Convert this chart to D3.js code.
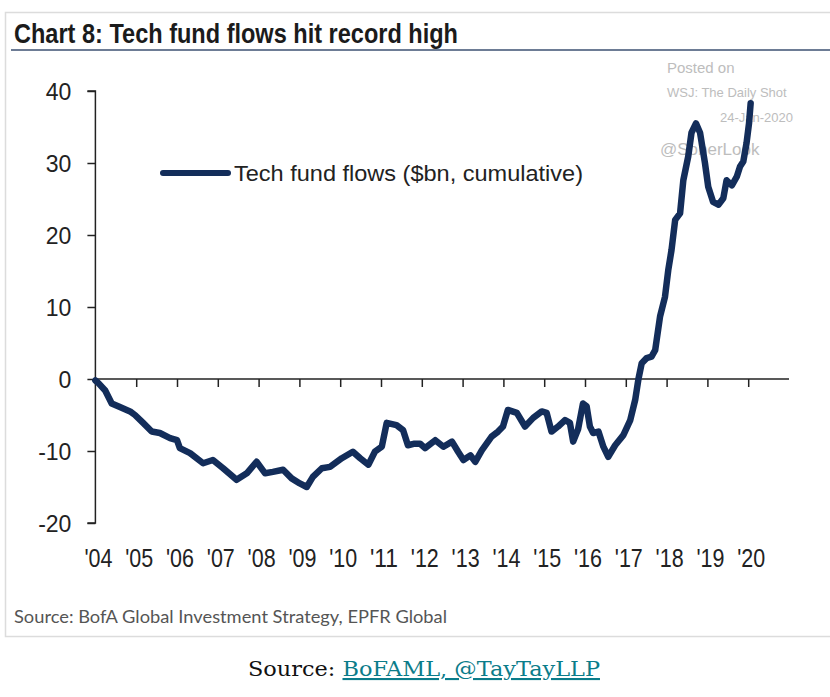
<!DOCTYPE html>
<html><head><meta charset="utf-8">
<script src="https://cdn.jsdelivr.net/npm/d3@7/dist/d3.min.js"></script>
<style>body{margin:0;background:#fff}svg{display:block}</style>
</head><body>
<svg id="c" width="830" height="697"></svg>
<script>
// decimal-year time points and cumulative tech fund flows ($bn)
const years = [2004.00,2004.08,2004.24,2004.40,2004.60,2004.85,2004.97,2005.17,2005.38,2005.58,2005.83,2006.00,2006.07,2006.32,2006.64,2006.88,2007.13,2007.46,2007.71,2007.95,2008.16,2008.35,2008.60,2008.81,2009.01,2009.18,2009.33,2009.55,2009.75,2010.04,2010.31,2010.49,2010.69,2010.85,2011.02,2011.14,2011.38,2011.54,2011.66,2011.80,2011.96,2012.08,2012.33,2012.53,2012.74,2012.89,2013.02,2013.19,2013.31,2013.47,2013.71,2013.87,2013.99,2014.11,2014.33,2014.53,2014.73,2014.94,2015.06,2015.18,2015.34,2015.51,2015.63,2015.71,2015.83,2015.95,2016.04,2016.12,2016.20,2016.33,2016.45,2016.57,2016.74,2016.94,2017.11,2017.23,2017.31,2017.39,2017.51,2017.63,2017.72,2017.84,2017.96,2018.04,2018.12,2018.21,2018.33,2018.41,2018.53,2018.61,2018.72,2018.82,2018.94,2019.02,2019.14,2019.27,2019.39,2019.47,2019.60,2019.72,2019.80,2019.88,2019.96,2020.02,2020.06];
const flows = [-0.2,-0.6,-1.6,-3.4,-3.9,-4.5,-5.0,-6.1,-7.3,-7.5,-8.2,-8.5,-9.6,-10.3,-11.7,-11.25,-12.4,-14.0,-13.1,-11.5,-13.1,-12.9,-12.6,-13.8,-14.5,-15.0,-13.6,-12.4,-12.2,-11.0,-10.1,-11.0,-11.9,-10.1,-9.4,-6.1,-6.4,-7.1,-9.2,-9.0,-9.0,-9.6,-8.5,-9.4,-8.7,-10.1,-11.25,-10.6,-11.5,-9.9,-8.0,-7.3,-6.6,-4.3,-4.7,-6.6,-5.4,-4.5,-4.7,-7.3,-6.6,-5.7,-6.1,-8.7,-7.0,-3.4,-3.8,-6.6,-7.5,-7.3,-9.4,-10.8,-9.2,-7.8,-5.7,-2.9,0.0,2.2,2.9,3.1,4.0,8.7,11.4,15.1,17.9,22.1,23.0,27.6,30.9,34.2,35.5,34.2,30.0,26.7,24.6,24.2,25.1,27.6,26.9,28.1,29.5,30.2,32.8,35.5,38.3];
const yTicks = [-20,-10,0,10,20,30,40];
const yTickLabels = ["-20","-10","0","10","20","30","40"];
const xTickYears = [2004,2005,2006,2007,2008,2009,2010,2011,2012,2013,2014,2015,2016,2017,2018,2019,2020];
const xTickLabels = ["'04","'05","'06","'07","'08","'09","'10","'11","'12","'13","'14","'15","'16","'17","'18","'19","'20"];
const seriesName = "Tech fund flows ($bn, cumulative)";
const title = "Chart 8: Tech fund flows hit record high";
const sourceNote = "Source: BofA Global Investment Strategy, EPFR Global";
const watermark = ["Posted on","WSJ: The Daily Shot","24-Jan-2020","@SoberLook"];

const navy = "#132d5a";
const svg = d3.select("#c");
const x = d3.scaleLinear().domain([2004, 2021]).range([95.4, 789]);
const y = d3.scaleLinear().domain([-20, 40]).range([523, 91]);

// outer panel
svg.append("rect").attr("x",5.5).attr("y",12.5).attr("width",830).attr("height",624)
  .attr("fill","#fff").attr("stroke","#dcdcdc").attr("stroke-width",1.5);
svg.append("text").attr("x",14).attr("y",43).text(title)
  .attr("font-family","'Liberation Sans Narrow','Liberation Sans',Arial,sans-serif")
  .attr("font-weight","bold").attr("font-size",27).attr("fill","#1b1b1b")
  .attr("textLength",444).attr("lengthAdjust","spacingAndGlyphs");
svg.append("line").attr("x1",11).attr("x2",830).attr("y1",50).attr("y2",50)
  .attr("stroke","#6d7c95").attr("stroke-width",2);

// watermark
const wm = svg.append("g").attr("fill","#bdbdbd").attr("font-family","'Liberation Sans',Arial,sans-serif");
wm.append("text").attr("x",667).attr("y",73).attr("font-size",15).text(watermark[0]);
wm.append("text").attr("x",667).attr("y",97).attr("font-size",13).text(watermark[1]);
wm.append("text").attr("x",793).attr("y",122).attr("font-size",13).attr("text-anchor","end").text(watermark[2]);
wm.append("text").attr("x",660).attr("y",155).attr("font-size",17).text(watermark[3]);

// y axis
const yAxis = svg.append("g").attr("transform",`translate(${x(2004)},0)`)
  .call(d3.axisLeft(y).tickValues(yTicks).tickSize(8).tickPadding(16).tickFormat((d,i)=>yTickLabels[i]));
yAxis.select(".domain").attr("stroke","#222").attr("stroke-width",1.5).attr("d",`M-8,${y(40)}H0V${y(-20)}H-8`);
yAxis.selectAll(".tick line").attr("stroke","#222").attr("stroke-width",1.5);
yAxis.selectAll(".tick text").attr("font-family","'Liberation Sans',Arial,sans-serif").attr("font-size",23).attr("fill","#222").attr("dy","0.36em");

// x axis at zero
const xAxis = svg.append("g").attr("transform",`translate(0,${y(0)})`)
  .call(d3.axisBottom(x).tickValues(xTickYears.slice(1)).tickSize(8).tickFormat(""));
xAxis.select(".domain").attr("stroke","#222").attr("stroke-width",1.5).attr("d",`M${x(2004)},0H${x(2021)}`);
xAxis.selectAll(".tick line").attr("stroke","#222").attr("stroke-width",1.5);

// bottom year labels
svg.append("g").selectAll("text").data(xTickYears).join("text")
  .attr("x",d=>x(d)+3-14).attr("y",567)
  .attr("font-family","'Liberation Sans Narrow','Liberation Sans',Arial,sans-serif")
  .attr("font-size",25).attr("fill","#222")
  .attr("textLength",28).attr("lengthAdjust","spacingAndGlyphs")
  .text((d,i)=>xTickLabels[i]);

// line
const pts = years.map((t,i)=>[t, flows[i]]);
svg.append("path").datum(pts)
  .attr("d", d3.line().x(d=>x(d[0])).y(d=>y(d[1])))
  .attr("fill","none").attr("stroke",navy).attr("stroke-width",6.5)
  .attr("stroke-linejoin","round").attr("stroke-linecap","round");

// legend
svg.append("line").attr("x1",163).attr("x2",228).attr("y1",173).attr("y2",173)
  .attr("stroke",navy).attr("stroke-width",6).attr("stroke-linecap","round");
svg.append("text").attr("x",234).attr("y",181).text(seriesName)
  .attr("font-family","'Liberation Sans',Arial,sans-serif").attr("font-size",22).attr("fill","#222")
  .attr("textLength",349).attr("lengthAdjust","spacingAndGlyphs");

// source note
svg.append("text").attr("x",14).attr("y",623).text(sourceNote)
  .attr("font-family","Lato,'Open Sans',sans-serif").attr("font-size",17).attr("fill","#555")
  .attr("textLength",433).attr("lengthAdjust","spacingAndGlyphs");

// caption
const cap = svg.append("text").attr("x",424).attr("y",676).attr("text-anchor","middle")
  .attr("font-family","'DejaVu Serif','Liberation Serif',serif").attr("font-size",21)
  .attr("textLength",352).attr("lengthAdjust","spacingAndGlyphs");
cap.append("tspan").attr("fill","#111").text("Source: ");
cap.append("tspan").attr("fill","#0b7c8a").attr("text-decoration","underline").text("BoFAML, @TayTayLLP");
</script>
</body></html>
